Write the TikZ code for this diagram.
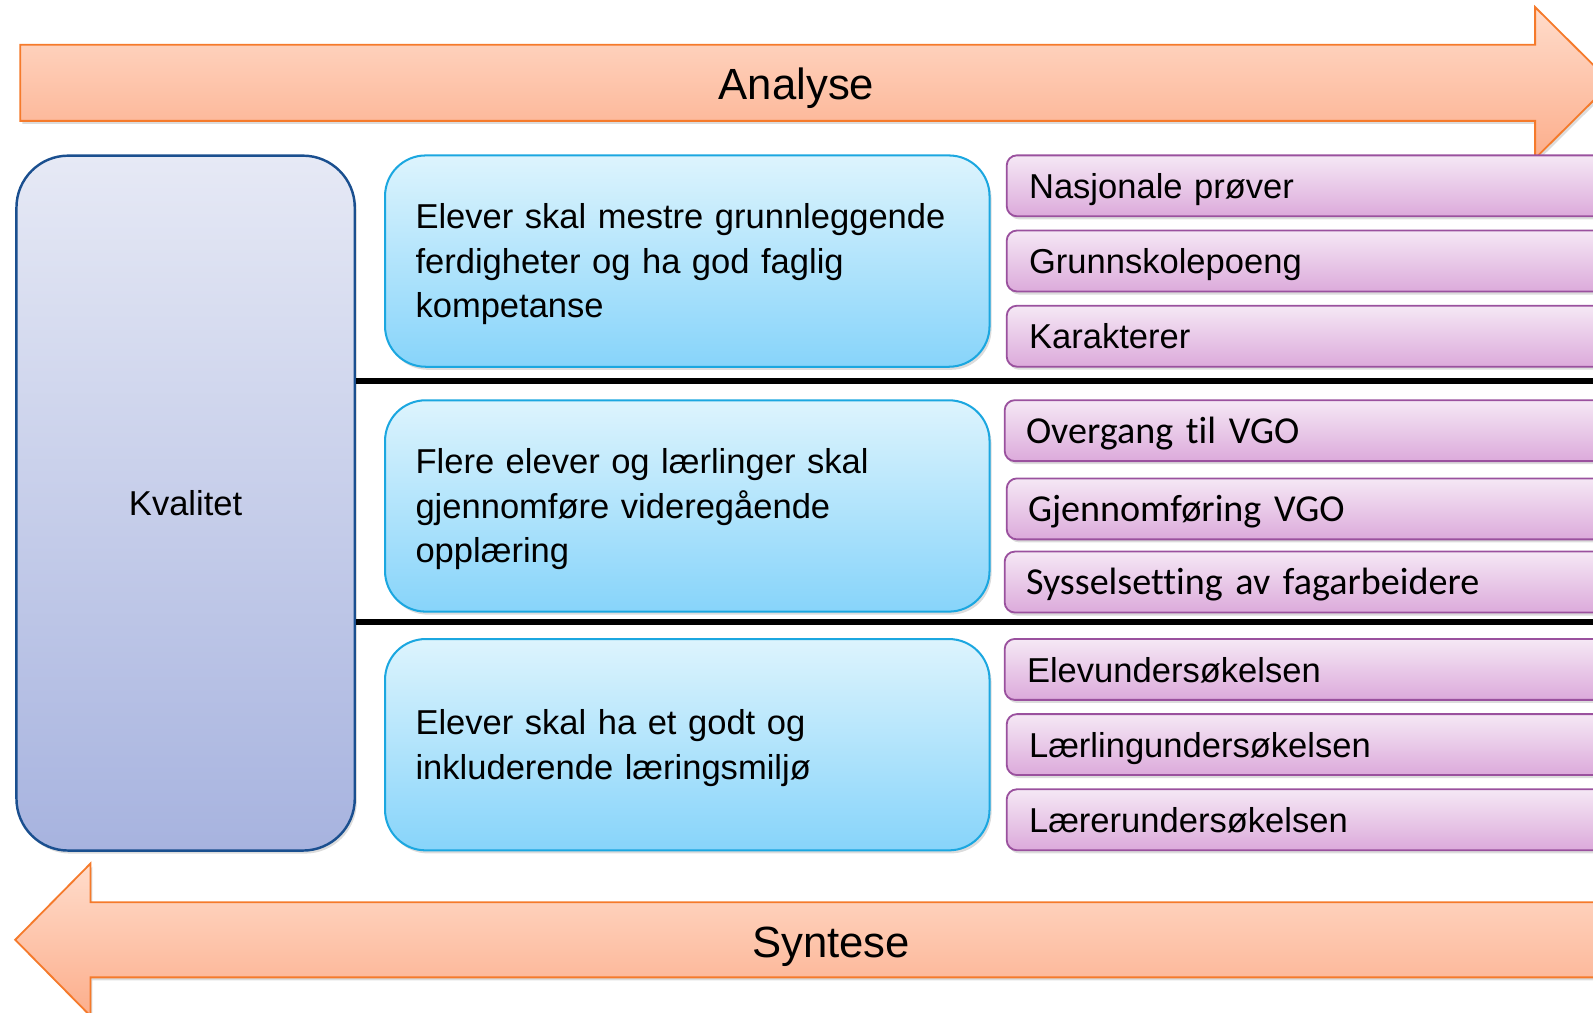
\documentclass[tikz,border=0pt]{standalone}
\usepackage{fontspec}
\setmainfont{Liberation Sans}
\newfontfamily\carlito[Ligatures=NoCommon]{Carlito}
\usetikzlibrary{shadows}
\definecolor{arrowtop}{HTML}{FFDCCB}
\definecolor{arrowbot}{HTML}{FCAE8C}
\definecolor{arrowline}{HTML}{F57A2B}
\definecolor{kvtop}{HTML}{E6E9F5}
\definecolor{kvbot}{HTML}{A7B3DF}
\definecolor{kvline}{HTML}{1A4F8F}
\definecolor{bltop}{HTML}{DDF4FD}
\definecolor{blbot}{HTML}{87D4FA}
\definecolor{blline}{HTML}{1BA7E0}
\definecolor{pptop}{HTML}{F5E8F5}
\definecolor{ppbot}{HTML}{DCAADB}
\definecolor{ppline}{HTML}{9A519E}
\begin{document}
\begin{tikzpicture}[x=1pt,y=-1pt,
  shad/.style={drop shadow={opacity=0.28, shadow xshift=2pt, shadow yshift=-3pt}},
  arrowshape/.style={draw=arrowline, line width=1.8pt, top color=arrowtop, bottom color=arrowbot, shad},
  arrowtext/.style={font=\fontsize{43}{50}\selectfont, anchor=base, inner sep=0pt},
  kvbox/.style={draw=kvline, line width=2.4pt, rounded corners=51pt, top color=kvtop, bottom color=kvbot,
    anchor=north west, minimum width=333pt, minimum height=684pt, font=\fontsize{34}{44}\selectfont, shad},
  bluebox/.style={draw=blline, line width=2pt, rounded corners=40pt, top color=bltop, bottom color=blbot,
    anchor=north west, minimum width=595pt, minimum height=208pt, text width=535pt, inner xsep=30pt,
    align=left, font=\fontsize{34}{44}\selectfont, shad,
    execute at begin node={\rule{0pt}{31pt}}},
  pbox/.style={draw=ppline, line width=1.8pt, rounded corners=10pt, top color=pptop, bottom color=ppbot,
    anchor=north west, minimum width=640pt, minimum height=60pt, text width=596pt, inner xsep=22pt,
    text height=25pt, text depth=0pt,
    align=left, font=\fontsize{34}{40}\selectfont, shad},
  cbox/.style={pbox, font=\carlito\fontsize{37.5}{42}\selectfont, text width=598pt, inner xsep=21pt},
  sepline/.style={line width=5.5pt, black}
]
\useasboundingbox (0,0) rectangle (1568,997);
\clip (0,0) rectangle (1568,997);

% Analyse arrow
\path[arrowshape] (20,44) -- (1511,44) -- (1511,7) -- (1586,81.5) -- (1511,156) -- (1511,119) -- (20,119) -- cycle;
\node[arrowtext] (analyse) at (784,98) {Analyse};

% Syntese arrow
\path[arrowshape] (15,925) -- (89,850) -- (89,888) -- (1600,888) -- (1600,962) -- (89,962) -- (89,1000) -- cycle;
\node[arrowtext] (syntese) at (818,942) {Syntese};

% Kvalitet
\node[kvbox] (kv) at (15,152) {Kvalitet};

% goals
\node[bluebox] (g1) at (378,152) {Elever skal mestre grunnleggende\\ferdigheter og ha god faglig\\kompetanse};
\node[bluebox] (g2) at (378,393) {Flere elever og lærlinger skal\\gjennomføre videregående\\opplæring};
\node[bluebox] (g3) at (378,628) {Elever skal ha et godt og\\inkluderende læringsmiljø};

% indicators
\node[pbox] (p1) at (990,152) {Nasjonale prøver};
\node[pbox] (p2) at (990,226) {Grunnskolepoeng};
\node[pbox] (p3) at (990,300) {Karakterer};
\node[cbox] (p4) at (988,393) {Overgang til VGO};
\node[cbox] (p5) at (990,470) {Gjennomføring VGO};
\node[cbox] (p6) at (988,542) {Sysselsetting av fagarbeidere};
\node[pbox] (p7) at (988,628) {Elevundersøkelsen};
\node[pbox] (p8) at (990,702) {Lærlingundersøkelsen};
\node[pbox] (p9) at (990,776) {Lærerundersøkelsen};

% separators
\coordinate (s1) at (1600,375);
\coordinate (s2) at (1600,612);
\draw[sepline] (kv.east |- s1) -- (s1);
\draw[sepline] (kv.east |- s2) -- (s2);
\end{tikzpicture}
\end{document}
